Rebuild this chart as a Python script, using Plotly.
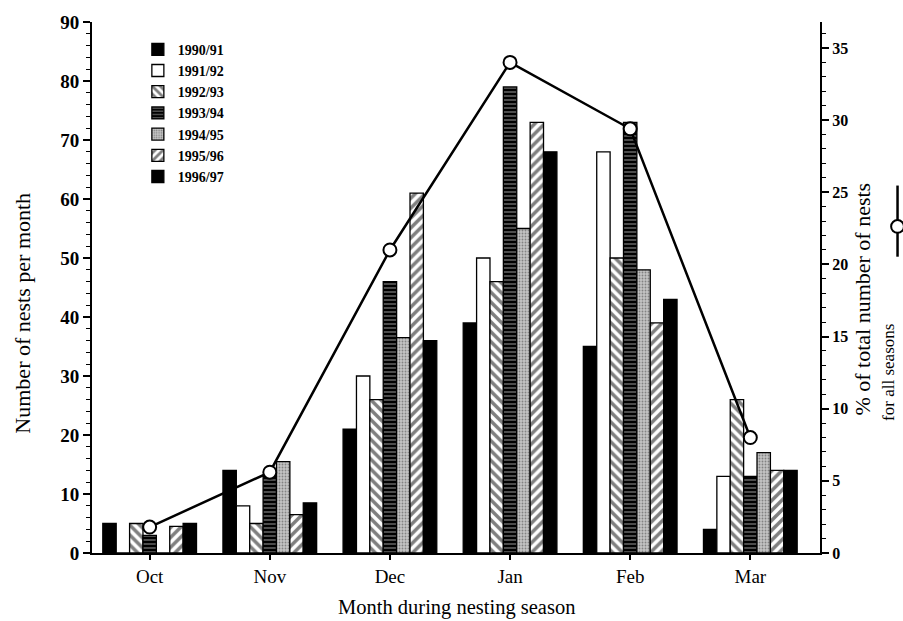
import plotly.graph_objects as go

months = ["Oct", "Nov", "Dec", "Jan", "Feb", "Mar"]
seasons = ["1990/91", "1991/92", "1992/93", "1993/94", "1994/95", "1995/96", "1996/97"]
s1990 = [5, 14, 21, 39, 35, 4]
s1991 = [0, 8, 30, 50, 68, 13]
s1992 = [5, 5, 26, 46, 50, 26]
s1993 = [3, 13, 46, 79, 73, 13]
s1994 = [0, 15.5, 36.5, 55, 48, 17]
s1995 = [4.5, 6.5, 61, 73, 39, 14]
s1996 = [5, 8.5, 36, 68, 43, 14]
pct_all = [1.8, 5.6, 21, 34, 29.4, 8]

series = [s1990, s1991, s1992, s1993, s1994, s1995, s1996]

FONT = "Liberation Serif"

styles = [
    dict(color="black"),
    dict(color="white"),
    dict(color="white", pattern=dict(shape="\\", fgcolor="black", bgcolor="white", size=7, solidity=0.5)),
    dict(color="black", pattern=dict(shape="-", fgcolor="white", bgcolor="black", size=4, solidity=0.3)),
    dict(color="#b8b8b8", pattern=dict(shape=".", fgcolor="#404040", bgcolor="#c4c4c4", size=3, solidity=0.3)),
    dict(color="white", pattern=dict(shape="/", fgcolor="black", bgcolor="white", size=7, solidity=0.5)),
    dict(color="black"),
]

fig = go.Figure()
for name, vals, st in zip(seasons, series, styles):
    marker = dict(line=dict(color="black", width=1.3), **st)
    fig.add_trace(go.Bar(x=months, y=vals, name=name, marker=marker, yaxis="y"))

fig.add_trace(go.Scatter(
    x=months, y=pct_all, yaxis="y2", mode="lines+markers", showlegend=False,
    line=dict(color="black", width=2.5),
    marker=dict(symbol="circle", size=13, color="white", line=dict(color="black", width=2)),
))

fig.update_layout(
    width=903, height=621,
    margin=dict(l=92, r=83, t=14, b=68),
    paper_bgcolor="white", plot_bgcolor="white",
    barmode="group", bargap=0.22, bargroupgap=0,
    font=dict(family=FONT, color="black", size=16),
    showlegend=True,
    legend=dict(x=0.063, y=0.978, xanchor="left", yanchor="top",
                font=dict(family=FONT, size=14, color="black", weight="bold"),
                bgcolor="rgba(0,0,0,0)", tracegroupgap=0, itemwidth=30),
    xaxis=dict(range=[-0.48, 5.58], showline=True, linecolor="black", linewidth=2,
               ticks="outside", ticklen=5, tickwidth=1.5, tickcolor="black",
               tickfont=dict(family=FONT, size=19), showgrid=False, zeroline=False),
    yaxis=dict(range=[0, 90], dtick=10, showline=True, linecolor="black", linewidth=2,
               ticks="outside", ticklen=7, tickwidth=1.5, tickcolor="black",
               minor=dict(dtick=2, ticks="outside", ticklen=4, tickwidth=1.2, tickcolor="black"),
               tickfont=dict(family=FONT, size=19, weight="bold"), showgrid=False, zeroline=False),
    yaxis2=dict(range=[0, 36.8], dtick=5, overlaying="y", side="right", showline=True,
                linecolor="black", linewidth=2, ticks="outside", ticklen=7, tickwidth=1.5,
                tickcolor="black",
                minor=dict(dtick=1, ticks="outside", ticklen=4, tickwidth=1.2, tickcolor="black"),
                tickfont=dict(family=FONT, size=16, weight="bold"), showgrid=False, zeroline=False),
)

ann = dict(xref="paper", yref="paper", showarrow=False)
fig.add_annotation(text="Number of nests per month", x=-0.096, y=0.451, textangle=-90,
                   xanchor="center", yanchor="middle", font=dict(family=FONT, size=22, color="black"), **ann)
fig.add_annotation(text="Month during nesting season", x=0.5, y=-0.102,
                   xanchor="center", yanchor="middle", font=dict(family=FONT, size=20.5, color="black"), **ann)
fig.add_annotation(text="% of total number of nests", x=1.059, y=0.479, textangle=-90,
                   xanchor="center", yanchor="middle", font=dict(family=FONT, size=22, color="black"), **ann)
fig.add_annotation(text="for all seasons", x=1.094, y=0.34, textangle=-90,
                   xanchor="center", yanchor="middle", font=dict(family=FONT, size=17, color="black"), **ann)

# rotated legend symbol for the line series
fig.add_shape(type="line", xref="paper", yref="paper", x0=1.1065, x1=1.1065, y0=0.558, y1=0.692,
              line=dict(color="black", width=2.5))
fig.add_shape(type="circle", xref="paper", yref="paper", x0=1.1065 - 0.0088, x1=1.1065 + 0.0088,
              y0=0.615 - 0.012, y1=0.615 + 0.012, fillcolor="white", line=dict(color="black", width=2))

fig.write_html("out.html")
